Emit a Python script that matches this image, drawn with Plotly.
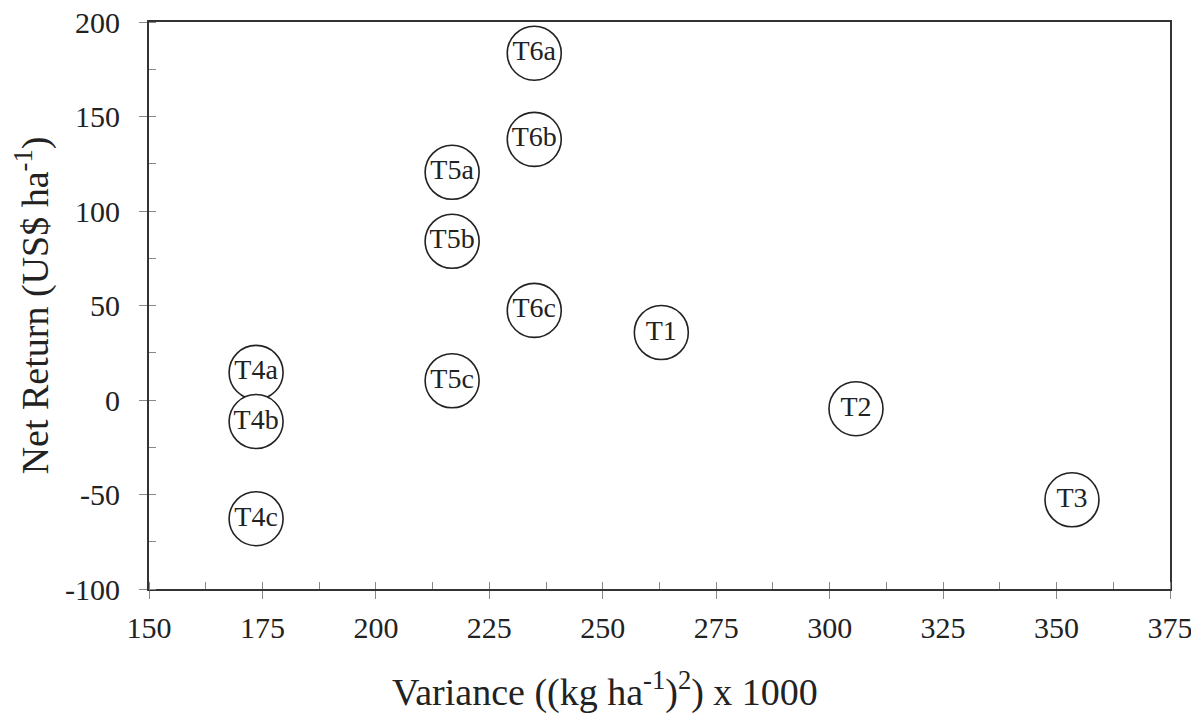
import plotly.graph_objects as go

labels = ["T1", "T2", "T3", "T4a", "T4b", "T4c", "T5a", "T5b", "T5c", "T6a", "T6b", "T6c"]
variance = [262.9, 305.8, 353.4, 173.6, 173.6, 173.6, 216.8, 216.8, 216.8, 234.9, 234.9, 234.9]
net_return = [35.7, -4.6, -52.8, 14.6, -11.4, -62.8, 120.5, 84.0, 10.2, 183.5, 137.9, 47.4]

x_ticks = [150, 175, 200, 225, 250, 275, 300, 325, 350, 375]
y_ticks = [-100, -50, 0, 50, 100, 150, 200]

x_title = "Variance ((kg ha<sup>-1</sup>)<sup>2</sup>) x 1000"
y_title = "Net Return (US$ ha<sup>-1</sup>)"

font_family = "Liberation Serif"
ink = "#222222"

fig = go.Figure()
fig.add_trace(go.Scatter(
    x=variance, y=net_return, mode="markers+text", text=labels,
    textposition="middle center",
    textfont=dict(family=font_family, size=28, color=ink),
    marker=dict(size=54, color="white", line=dict(color=ink, width=1.6)),
    showlegend=False, cliponaxis=False,
))

fig.update_xaxes(
    range=[150, 375], tickvals=x_ticks, ticktext=[str(v) for v in x_ticks],
    showgrid=False, zeroline=False, showline=True, linecolor="#333333", linewidth=2,
    mirror=True, ticks="outside", ticklen=8, tickcolor="#888888", tickwidth=1.2,
    minor=dict(dtick=12.5, ticks="inside", ticklen=7, tickcolor="#888888", tickwidth=1.2, showgrid=False),
    tickfont=dict(family=font_family, size=30, color=ink),
    ticklabelstandoff=3, ticklabeloverflow="allow",
    automargin=False,
)
fig.update_yaxes(
    range=[-100, 200], tickvals=y_ticks, ticktext=[str(v) for v in y_ticks],
    showgrid=False, zeroline=False, showline=True, linecolor="#333333", linewidth=2,
    mirror=True, ticks="outside", ticklen=8, tickcolor="#888888", tickwidth=1.2,
    minor=dict(dtick=25, ticks="inside", ticklen=7, tickcolor="#888888", tickwidth=1.2, showgrid=False),
    tickfont=dict(family=font_family, size=30, color=ink),
    ticklabelstandoff=13, ticklabeloverflow="allow",
    automargin=False,
    title=dict(text=y_title, font=dict(family=font_family, size=38, color=ink), standoff=12),
)

# x-axis title sits left of centre in the reference, so place it as an annotation
fig.add_annotation(
    text=x_title, xref="paper", yref="paper", x=0.4466, y=-0.178,
    xanchor="center", yanchor="middle", showarrow=False,
    font=dict(family=font_family, size=38, color=ink),
)

# page body has an 8px default margin; offset plot margins to land the plot box where the reference has it
fig.update_layout(
    width=1199, height=714,
    margin=dict(l=141, r=37, t=14, b=133),
    paper_bgcolor="white", plot_bgcolor="white",
    font=dict(family=font_family),
)

fig.write_html("out.html")
